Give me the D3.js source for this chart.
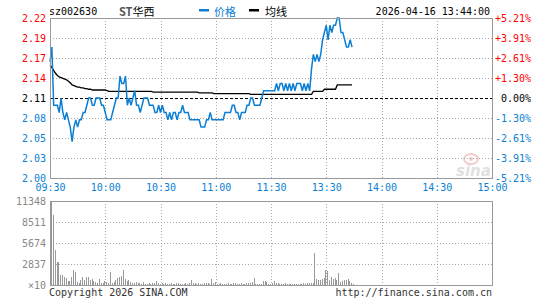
<!DOCTYPE html>
<html>
<head>
<meta charset="utf-8">
<script src="https://cdn.jsdelivr.net/npm/d3@7"></script>
<style>
  html, body { margin: 0; padding: 0; background: #fff; }
  svg { display: block; }
</style>
</head>
<body>
<script>
// ---------------- DATA ----------------
const stockCode = "sz002630";
const stockName = "ST华西";
const legendLabels = ["价格", "均线"];
const stampText = "2026-04-16 13:44:00";
const prevClose = 2.11;
const maxPct = 0.0521;
const priceTickLabels = ["2.22", "2.19", "2.17", "2.14", "2.11", "2.08", "2.05", "2.03", "2.00"];
const pctTickLabels = ["+5.21%", "+3.91%", "+2.61%", "+1.30%", "0.00%", "-1.30%", "-2.61%", "-3.91%", "-5.21%"];
const timeLabels = ["09:30", "10:00", "10:30", "11:00", "11:30", "13:30", "14:00", "14:30", "15:00"];
const volTickLabels = ["11348", "8511", "5674", "2837", "×10"];
const volMax = 11348;
const footerLeft = "Copyright 2026 SINA.COM";
const footerRight = "http://finance.sina.com.cn";

// minute-by-minute price (one value per traded minute, 09:30 -> 13:44)
const price = [
  2.16, 2.18, 2.10, 2.10, 2.10, 2.09, 2.11, 2.09, 2.08, 2.09,
  2.08, 2.07, 2.05, 2.07, 2.08, 2.07, 2.08, 2.08, 2.09, 2.09,
  2.10, 2.11, 2.11, 2.10, 2.10, 2.11, 2.11, 2.11, 2.10, 2.10,
  2.09, 2.08, 2.08, 2.08, 2.09, 2.10, 2.11, 2.11, 2.14, 2.13,
  2.13, 2.14, 2.10, 2.11, 2.10, 2.11, 2.12, 2.10, 2.10, 2.09,
  2.10, 2.11, 2.11, 2.11, 2.10, 2.10, 2.10, 2.09, 2.09, 2.10,
  2.09, 2.10, 2.09, 2.09, 2.08, 2.09, 2.08, 2.09, 2.09, 2.08,
  2.09, 2.09, 2.10, 2.09, 2.09, 2.09, 2.08, 2.08, 2.08, 2.08,
  2.08, 2.08, 2.07, 2.07, 2.07, 2.08, 2.08, 2.09, 2.08, 2.08,
  2.08, 2.08, 2.08, 2.08, 2.08, 2.09, 2.09, 2.09, 2.09, 2.10,
  2.10, 2.09, 2.09, 2.08, 2.09, 2.09, 2.09, 2.10, 2.10, 2.11,
  2.11, 2.10, 2.10, 2.10, 2.10, 2.11, 2.12, 2.12, 2.12, 2.12,
  2.12, 2.12, 2.12, 2.13, 2.12, 2.13, 2.13, 2.12, 2.13, 2.12,
  2.13, 2.12, 2.13, 2.12, 2.13, 2.13, 2.13, 2.12, 2.13, 2.12,
  2.13, 2.12, 2.15, 2.17, 2.16, 2.17, 2.16, 2.17, 2.19, 2.20,
  2.21, 2.19, 2.21, 2.20, 2.21, 2.21, 2.22, 2.22, 2.20, 2.20,
  2.19, 2.18, 2.18, 2.19, 2.18
];

// minute-by-minute average price
const avgPrice = [
  2.155, 2.152, 2.148, 2.144, 2.141, 2.139, 2.138, 2.137, 2.136, 2.135,
  2.133, 2.131, 2.128, 2.127, 2.126, 2.125, 2.125, 2.124, 2.124, 2.123,
  2.123, 2.122, 2.122, 2.121, 2.121, 2.121, 2.121, 2.121, 2.121, 2.121,
  2.121, 2.120, 2.119, 2.119, 2.119, 2.119, 2.119, 2.119, 2.119, 2.119,
  2.119, 2.119, 2.119, 2.119, 2.119, 2.119, 2.119, 2.119, 2.119, 2.119,
  2.119, 2.119, 2.119, 2.119, 2.119, 2.119, 2.118, 2.118, 2.118, 2.118,
  2.118, 2.118, 2.118, 2.118, 2.118, 2.118, 2.118, 2.118, 2.118, 2.118,
  2.118, 2.118, 2.118, 2.118, 2.118, 2.118, 2.118, 2.118, 2.118, 2.118,
  2.118, 2.117, 2.117, 2.117, 2.117, 2.117, 2.117, 2.117, 2.117, 2.116,
  2.116, 2.116, 2.116, 2.116, 2.116, 2.116, 2.116, 2.116, 2.116, 2.116,
  2.116, 2.116, 2.116, 2.116, 2.116, 2.116, 2.116, 2.116, 2.116, 2.115,
  2.115, 2.115, 2.115, 2.115, 2.115, 2.115, 2.115, 2.115, 2.115, 2.115,
  2.115, 2.115, 2.115, 2.115, 2.115, 2.115, 2.115, 2.115, 2.115, 2.115,
  2.115, 2.115, 2.115, 2.115, 2.115, 2.115, 2.115, 2.115, 2.115, 2.115,
  2.115, 2.115, 2.115, 2.119, 2.119, 2.119, 2.119, 2.119, 2.119, 2.122,
  2.122, 2.122, 2.122, 2.122, 2.122, 2.122, 2.128, 2.128, 2.128, 2.128,
  2.128, 2.128, 2.128, 2.128, 2.128
];

// minute volume (x10 shares)
const volume = [
  11348, 9396, 4766, 3041, 3041, 1362, 1362, 1135, 908, 590,
  590, 1044, 2043, 1816, 454, 318, 681, 1044, 681, 1044,
  1135, 681, 772, 590, 454, 318, 772, 318, 227, 545,
  454, 227, 1725, 227, 454, 681, 908, 1044, 1226, 2043,
  772, 590, 681, 454, 227, 318, 454, 227, 227, 136,
  409, 136, 136, 227, 136, 227, 318, 545, 227, 136,
  318, 136, 227, 136, 182, 227, 136, 182, 227, 318,
  136, 182, 136, 227, 182, 227, 681, 318, 227, 182,
  227, 136, 182, 227, 318, 227, 182, 772, 227, 454,
  182, 136, 227, 182, 136, 182, 227, 136, 182, 318,
  227, 136, 182, 227, 136, 182, 227, 318, 227, 454,
  908, 136, 91, 136, 182, 545, 545, 409, 182, 136,
  227, 545, 318, 227, 182, 136, 182, 227, 136, 182,
  136, 182, 136, 91, 136, 182, 136, 227, 182, 318,
  227, 318, 318, 4312, 772, 681, 681, 772, 908, 2043,
  1952, 681, 1135, 772, 908, 681, 1589, 454, 590, 681,
  681, 772, 590, 227, 91
];

// ---------------- CHART ----------------
const W = 545, H = 300;
const L = 50, R = 492, T = 18, B = 178, VT = 201, VB = 285;
const BLUE = "#0b7fd3", RED = "#ff0000", GRID = "#a8a8a8", BORDER = "#999999";
const MONO = "'DejaVu Sans Mono', 'Liberation Mono', monospace";
const CJK = "'Noto Sans CJK SC', sans-serif";

const svg = d3.select("body").append("svg").attr("width", W).attr("height", H);

const lo = prevClose * (1 - maxPct), hi = prevClose * (1 + maxPct);
const x = d3.scaleLinear().domain([0, 240]).range([L, R]);
const y = d3.scaleLinear().domain([lo, hi]).range([B, T]);
const yv = d3.scaleLinear().domain([0, volMax]).range([VB, VT]);

const priceTickVals = priceTickLabels.map((d, i) => hi - i * (hi - lo) / 8);
const volTickVals = volTickLabels.map((d, i) => volMax - i * volMax / 4);
const timeTickVals = timeLabels.map((d, i) => i * 30);

// watermark
const wm = svg.append("g").attr("opacity", 0.55);
wm.append("ellipse").attr("cx", 471).attr("cy", 159).attr("rx", 7).attr("ry", 5)
  .attr("fill", "none").attr("stroke", "#e9a0a0").attr("stroke-width", 2);
wm.append("circle").attr("cx", 471).attr("cy", 159).attr("r", 2).attr("fill", "#e9a0a0");
wm.append("text").attr("x", 456).attr("y", 176).text("sina")
  .attr("font-family", "'DejaVu Sans', sans-serif").attr("font-style", "italic")
  .attr("font-weight", "bold").attr("font-size", 15).attr("fill", "#c8c8c8");

// gridlines price panel
const grid = svg.append("g").attr("shape-rendering", "crispEdges");
priceTickVals.forEach((v, i) => {
  if (i === 0 || i === 8 || i === 4) return;
  grid.append("line").attr("x1", L).attr("x2", R)
    .attr("y1", Math.round(y(v)) + 0.5).attr("y2", Math.round(y(v)) + 0.5)
    .attr("stroke", GRID).attr("stroke-dasharray", "1,2");
});
timeTickVals.forEach((v, i) => {
  if (i === 0 || i === 8) return;
  const xx = Math.round(x(v)) + 0.5;
  grid.append("line").attr("x1", xx).attr("x2", xx).attr("y1", T).attr("y2", B)
    .attr("stroke", GRID).attr("stroke-dasharray", "1,2");
  grid.append("line").attr("x1", xx).attr("x2", xx).attr("y1", VT).attr("y2", VB)
    .attr("stroke", GRID).attr("stroke-dasharray", "1,2");
});
volTickVals.forEach((v, i) => {
  if (i === 0 || i === 4) return;
  grid.append("line").attr("x1", L).attr("x2", R)
    .attr("y1", Math.round(yv(v)) + 0.5).attr("y2", Math.round(yv(v)) + 0.5)
    .attr("stroke", GRID).attr("stroke-dasharray", "1,2");
});

// prev close line
grid.append("line").attr("x1", L).attr("x2", R)
  .attr("y1", Math.round(y(prevClose)) + 0.5).attr("y2", Math.round(y(prevClose)) + 0.5)
  .attr("stroke", "#000").attr("stroke-dasharray", "3,2");

// volume bars
svg.append("g").attr("shape-rendering", "crispEdges")
  .selectAll("rect").data(volume).join("rect")
  .attr("x", (d, i) => Math.round(x(i)) + 1)
  .attr("width", 1)
  .attr("y", d => yv(d))
  .attr("height", d => VB - yv(d))
  .attr("fill", "#999");

// lines
const line = d3.line().x((d, i) => x(i)).y(d => y(d));
svg.append("path").datum(avgPrice).attr("d", line)
  .attr("fill", "none").attr("stroke", "#000").attr("stroke-width", 1.3);
svg.append("path").datum(price).attr("d", line)
  .attr("fill", "none").attr("stroke", BLUE).attr("stroke-width", 1.5)
  .attr("stroke-linejoin", "miter");

// borders
svg.append("rect").attr("x", L + 0.5).attr("y", T + 0.5).attr("width", R - L).attr("height", B - T)
  .attr("fill", "none").attr("stroke", BORDER).attr("shape-rendering", "crispEdges");
svg.append("rect").attr("x", L + 0.5).attr("y", VT + 0.5).attr("width", R - L).attr("height", VB - VT)
  .attr("fill", "none").attr("stroke", BORDER).attr("shape-rendering", "crispEdges");

// axes
function styleAxis(g) {
  g.select(".domain").remove();
  g.selectAll(".tick line").remove();
  g.selectAll("text").attr("font-family", MONO).attr("font-size", 10);
}
const colorFor = i => (i < 4 ? RED : i === 4 ? "#000" : BLUE);

svg.append("g").attr("transform", `translate(${L},0)`)
  .call(d3.axisLeft(y).tickValues(priceTickVals).tickSize(0).tickPadding(4)
    .tickFormat((d, i) => priceTickLabels[i]))
  .call(styleAxis)
  .selectAll("text").attr("fill", (d, i) => colorFor(i));

svg.append("g").attr("transform", `translate(${R},0)`)
  .call(d3.axisRight(y).tickValues(priceTickVals).tickSize(0).tickPadding(39)
    .tickFormat((d, i) => pctTickLabels[i]))
  .call(styleAxis)
  .selectAll("text").attr("text-anchor", "end").attr("fill", (d, i) => colorFor(i));

svg.append("g").attr("transform", `translate(0,${B})`)
  .call(d3.axisBottom(x).tickValues(timeTickVals).tickSize(0).tickPadding(6)
    .tickFormat((d, i) => timeLabels[i]))
  .call(styleAxis)
  .selectAll("text").attr("fill", BLUE);

svg.append("g").attr("transform", `translate(${L},0)`)
  .call(d3.axisLeft(yv).tickValues(volTickVals).tickSize(0).tickPadding(4)
    .tickFormat((d, i) => volTickLabels[i]))
  .call(styleAxis)
  .selectAll("text").attr("fill", "#888");

// header
svg.append("text").attr("x", 49).attr("y", 15).text(stockCode)
  .attr("font-family", MONO).attr("font-size", 10).attr("fill", "#000");
svg.append("text").attr("x", 119).attr("y", 16)
  .attr("font-family", CJK).attr("font-size", 11).attr("fill", "#000")
  .call(t => {
    t.append("tspan").text(stockName.slice(0, 2)).attr("fill", "#555").attr("font-weight", "bold");
    t.append("tspan").text(stockName.slice(2));
  });
svg.append("rect").attr("x", 199).attr("y", 9).attr("width", 10).attr("height", 2.5).attr("fill", BLUE);
svg.append("text").attr("x", 214).attr("y", 16).text(legendLabels[0])
  .attr("font-family", CJK).attr("font-size", 11).attr("fill", BLUE);
svg.append("rect").attr("x", 249).attr("y", 9).attr("width", 10).attr("height", 2.5).attr("fill", "#000");
svg.append("text").attr("x", 265).attr("y", 16).text(legendLabels[1])
  .attr("font-family", CJK).attr("font-size", 11).attr("fill", "#000");
svg.append("text").attr("x", 490).attr("y", 15).attr("text-anchor", "end").text(stampText)
  .attr("font-family", MONO).attr("font-size", 10).attr("fill", "#000");

// footer
svg.append("text").attr("x", 49).attr("y", 296).text(footerLeft)
  .attr("font-family", MONO).attr("font-size", 10).attr("fill", "#333");
svg.append("text").attr("x", 492).attr("y", 296).attr("text-anchor", "end").text(footerRight)
  .attr("font-family", MONO).attr("font-size", 10).attr("fill", "#333");
</script>
</body>
</html>
